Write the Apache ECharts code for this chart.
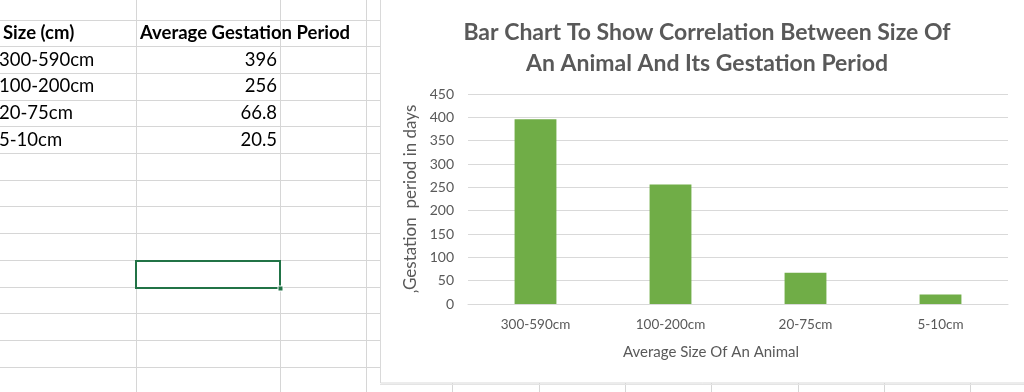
<!DOCTYPE html>
<html>
<head>
<meta charset="utf-8">
<script src="https://cdn.jsdelivr.net/npm/echarts@6/dist/echarts.min.js"></script>
<style>
html,body{margin:0;padding:0;background:#fff;}
#main{width:1024px;height:392px;}
</style>
</head>
<body>
<div id="main"></div>
<script>
var categories = ['300-590cm', '100-200cm', '20-75cm', '5-10cm'];
var tableSizes = ['300-590cm', '100-200cm', '20-75cm', '5-10cm'];
var gestationDays = [396, 256, 66.8, 20.5];
var tableValueLabels = ['396', '256', '66.8', '20.5'];
var yTicks = [0, 50, 100, 150, 200, 250, 300, 350, 400, 450];
var chartTitle = 'Bar Chart To Show Correlation Between Size Of\nAn Animal And Its Gestation Period';
var headers = ['Size (cm)', 'Average Gestation Period'];

var chart = echarts.init(document.getElementById('main'), null, {renderer: 'canvas'});

var sheetLine = '#d6d6d6';
var graphics = [];
var rowTop = 19.5, rowH = 26.7;
for (var k = 0; k < 14; k++) {
  var y = Math.round(rowTop + rowH * k) + 0.5;
  graphics.push({type: 'line', z: -20, shape: {x1: 0, y1: y, x2: 380, y2: y}, style: {stroke: sheetLine, lineWidth: 1}});
}
[136.5, 280.5, 366.5].forEach(function (x) {
  graphics.push({type: 'line', z: -20, shape: {x1: x, y1: 0, x2: x, y2: 392}, style: {stroke: sheetLine, lineWidth: 1}});
});
[452.5, 539.5, 625.5, 711.5, 798.5, 884.5, 970.5].forEach(function (x) {
  graphics.push({type: 'line', z: -20, shape: {x1: x, y1: 383, x2: x, y2: 392}, style: {stroke: sheetLine, lineWidth: 1}});
});
graphics.push({type: 'line', z: -20, shape: {x1: 380, y1: 384.5, x2: 1024, y2: 384.5}, style: {stroke: '#e4e4e4', lineWidth: 1}});
var fontT = 'Lato, "Open Sans", sans-serif';
graphics.push({type: 'text', z: -5, style: {text: headers[0], x: 3, y: 33, fill: '#000', font: 'bold 18.5px ' + fontT, textVerticalAlign: 'middle', verticalAlign: 'middle'}});
graphics.push({type: 'text', z: -5, style: {text: headers[1], x: 140, y: 33, fill: '#000', font: 'bold 18.5px ' + fontT, textVerticalAlign: 'middle', verticalAlign: 'middle'}});
for (var i = 0; i < tableSizes.length; i++) {
  var cy = 33 + rowH * (i + 1);
  graphics.push({type: 'text', z: -5, style: {text: tableSizes[i], x: -1, y: cy, fill: '#000', font: '18.5px ' + fontT, verticalAlign: 'middle', textVerticalAlign: 'middle'}});
  graphics.push({type: 'text', z: -5, style: {text: tableValueLabels[i], x: 277, y: cy, fill: '#000', font: '18.5px ' + fontT, align: 'right', textAlign: 'right', verticalAlign: 'middle', textVerticalAlign: 'middle'}});
}
graphics.push({type: 'rect', z: -4, shape: {x: 136, y: 261, width: 144, height: 27}, style: {fill: 'none', stroke: '#217346', lineWidth: 2}});
graphics.push({type: 'rect', z: -3, shape: {x: 278, y: 286, width: 5, height: 5}, style: {fill: '#217346', stroke: '#fff', lineWidth: 1}});
graphics.push({type: 'rect', z: -10, shape: {x: 380.5, y: -2, width: 650, height: 385}, style: {fill: '#fff', stroke: '#d9d9d9', lineWidth: 1}});

var option = {
  backgroundColor: '#fff',
  animation: false,
  title: {
    text: chartTitle,
    left: 702,
    top: 12,
    textAlign: 'center',
    textStyle: {fontFamily: fontT, fontWeight: 'bold', fontSize: 23, color: '#595959', lineHeight: 31}
  },
  graphic: {elements: graphics},
  grid: {left: 468, right: 16, top: 94, bottom: 88, containLabel: false},
  xAxis: {
    type: 'category',
    data: categories,
    axisTick: {show: false},
    axisLine: {lineStyle: {color: '#d9d9d9'}},
    axisLabel: {color: '#595959', fontFamily: fontT, fontSize: 13.5, margin: 14},
    name: 'Average Size Of An Animal',
    nameLocation: 'middle',
    nameGap: 41,
    nameTextStyle: {color: '#595959', fontFamily: fontT, fontSize: 15, padding: [0, 54, 0, 0]}
  },
  yAxis: {
    type: 'value',
    min: yTicks[0],
    max: yTicks[yTicks.length - 1],
    interval: yTicks[1] - yTicks[0],
    axisLine: {show: false},
    axisTick: {show: false},
    splitLine: {lineStyle: {color: '#d9d9d9'}},
    axisLabel: {color: '#595959', fontFamily: fontT, fontSize: 14, margin: 14},
    name: '\u201aGestation  period in days',
    nameLocation: 'middle',
    nameGap: 47,
    nameRotate: 90,
    nameTextStyle: {color: '#595959', fontFamily: fontT, fontSize: 17}
  },
  series: [{
    type: 'bar',
    data: gestationDays,
    barWidth: '31%',
    itemStyle: {color: '#70ad47'}
  }]
};
chart.setOption(option);
</script>
</body>
</html>
